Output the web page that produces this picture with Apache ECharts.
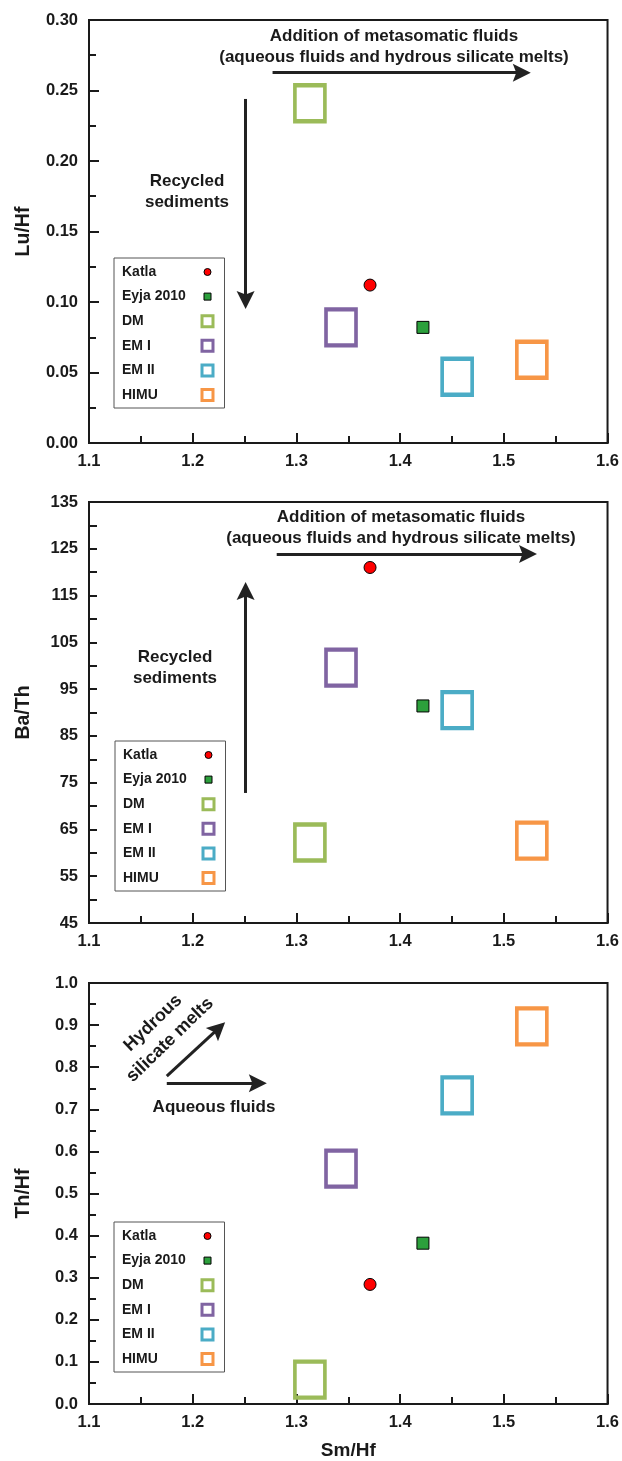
<!DOCTYPE html>
<html>
    <head>
        <meta charset="utf-8">
        <title>Sm/Hf ratios</title>
        <script src="https://cdn.jsdelivr.net/npm/echarts@6/dist/echarts.min.js"></script>
        <style>
            body { margin: 0; background: #fff; }
        </style>
    </head>
    <body>
        <div id="main" style="width:622px;height:1461px;"></div>
        <script type="text/javascript">
            // data
            var groups = ['Katla', 'Eyja 2010', 'DM', 'EM I', 'EM II', 'HIMU'];
            var smHf = [1.371, 1.422, 1.313, 1.343, 1.455, 1.527];
            var luHf = [0.112, 0.082, 0.241, 0.082, 0.047, 0.059];
            var baTh = [121, 91.4, 62.2, 99.6, 90.5, 62.6];
            var thHf = [0.284, 0.382, 0.058, 0.559, 0.733, 0.897];
            var yNames = ['Lu/Hf', 'Ba/Th', 'Th/Hf'];

            var colors = ['#ff0000', '#2ca03c', '#9bbb59', '#8064a2', '#4bacc6', '#f79646'];
            var font = 'Liberation Sans, Arial, sans-serif';
            var ink = '#1a1a1a';

            var myChart = echarts.init(document.getElementById('main'));

            var panels = [luHf, baTh, thHf];
            var grids = [
                {left: 89, top: 20, width: 522, height: 423},
                {left: 89, top: 502, width: 522, height: 421},
                {left: 89, top: 983, width: 522, height: 421}
            ];
            grids.forEach(function (g) {
                g.show = true;
                g.borderColor = ink;
                g.borderWidth = 2;
                g.backgroundColor = '#fff';
            });

            // annotation arrows (start, end) in data units; the head sits centred on the end
            var arrows = [
                [
                    [[1.277, 0.2626], [1.5173, 0.2626]],
                    [[1.251, 0.244], [1.251, 0.1014]]
                ],
                [
                    [[1.281, 123.9], [1.5233, 123.9]],
                    [[1.251, 72.8], [1.251, 116.0]]
                ],
                [
                    [[1.175, 0.779], [1.2249, 0.8921]],
                    [[1.175, 0.762], [1.2628, 0.762]]
                ]
            ];

            var axisLabel = {color: ink, fontFamily: font, fontWeight: 'bold', fontSize: 16.5};

            var xAxes = grids.map(function (g, i) {
                return {
                    gridIndex: i, type: 'value', min: 1.1, max: 1.6, interval: 0.1,
                    name: i === 2 ? 'Sm/Hf' : '', nameLocation: 'middle', nameGap: 37,
                    nameTextStyle: {color: ink, fontFamily: font, fontWeight: 'bold', fontSize: 19},
                    axisLine: {lineStyle: {color: ink, width: 2}},
                    axisTick: {inside: true, length: 10, lineStyle: {color: ink, width: 2}},
                    minorTick: {show: true, splitNumber: 2, length: 7, lineStyle: {color: ink, width: 2}},
                    axisLabel: Object.assign({margin: 10, formatter: function (v) { return v.toFixed(1); }}, axisLabel),
                    splitLine: {show: false}
                };
            });

            var yAxes = [
                {min: 0, max: 0.3, interval: 0.05, fmt: function (v) { return v.toFixed(2); }, minor: true},
                {min: 45, max: 135, interval: 5, fmt: function (v) { return Math.round(v - 45) % 10 === 0 ? String(Math.round(v)) : ''; }, minor: false},
                {min: 0, max: 1, interval: 0.1, fmt: function (v) { return v.toFixed(1); }, minor: true}
            ].map(function (a, i) {
                return {
                    gridIndex: i, type: 'value', min: a.min, max: a.max, interval: a.interval,
                    name: yNames[i], nameLocation: 'middle', nameGap: 55,
                    nameTextStyle: {color: ink, fontFamily: font, fontWeight: 'bold', fontSize: 19.5},
                    axisLine: {lineStyle: {color: ink, width: 2}},
                    axisTick: {inside: true, length: a.minor ? 10 : 8, lineStyle: {color: ink, width: 2}},
                    minorTick: {show: a.minor, splitNumber: 2, length: 7, lineStyle: {color: ink, width: 2}},
                    axisLabel: Object.assign({margin: 11, formatter: a.fmt}, axisLabel),
                    splitLine: {show: false}
                };
            });

            function seriesStyle(k) {
                if (k === 0) {
                    return {symbol: 'circle', symbolSize: 12, itemStyle: {color: colors[0], borderColor: '#000', borderWidth: 1, opacity: 1}};
                }
                if (k === 1) {
                    return {symbol: 'rect', symbolSize: 12, itemStyle: {color: colors[1], borderColor: '#000', borderWidth: 1, opacity: 1}};
                }
                return {symbol: 'rect', symbolSize: [30, 36], itemStyle: {color: 'rgba(0,0,0,0)', borderColor: colors[k], borderWidth: 4, opacity: 1}};
            }

            var arrowHead = 'path://M7.5,0L15,18L7.5,14.5L0,18Z';

            var series = [];
            panels.forEach(function (vals, p) {
                groups.forEach(function (name, k) {
                    var s = Object.assign({
                        type: 'scatter', name: name, xAxisIndex: p, yAxisIndex: p,
                        data: [[smHf[k], vals[k]]], z: k < 2 ? 5 : 3,
                        emphasis: {disabled: true}
                    }, seriesStyle(k));
                    if (k === 0) {
                        s.markLine = {
                            silent: true,
                            symbol: ['none', arrowHead],
                            symbolSize: 18,
                            label: {show: false},
                            lineStyle: {color: '#222', width: 3, type: 'solid'},
                            data: arrows[p].map(function (a) {
                                return [{coord: a[0]}, {coord: a[1]}];
                            })
                        };
                    }
                    series.push(s);
                });
            });

            // legend icons: small circle/square drawn inside a fixed 11x11 box
            var legendIcons = [
                'path://M0,0M11,11M2,5.5a3.5,3.5 0 1,0 7,0a3.5,3.5 0 1,0 -7,0z',
                'path://M0,0M11,11M2,2h7v7h-7z',
                'rect', 'rect', 'rect', 'rect'
            ];
            var legendTops = [258, 741, 1222];
            var legendLefts = [114, 115, 114];
            var legends = legendTops.map(function (t, i) {
                return {
                    orient: 'vertical', left: legendLefts[i], top: t,
                    align: 'right', itemWidth: 11, itemHeight: 11, itemGap: 10.6,
                    padding: [7, 10, 6, 8],
                    borderColor: '#555', borderWidth: 1, backgroundColor: '#fff',
                    selectedMode: false,
                    formatter: '{n|{name}}',
                    textStyle: {
                        rich: {n: {width: 75, align: 'left', fontFamily: font, fontWeight: 'bold', fontSize: 14, lineHeight: 14, color: ink}}
                    },
                    data: groups.map(function (g, k) {
                        return {
                            name: g, icon: legendIcons[k],
                            itemStyle: k < 2 ? {borderWidth: 1, borderColor: '#000'} : {borderWidth: 3, borderColor: colors[k], color: 'rgba(0,0,0,0)'}
                        };
                    })
                };
            });

            function txt(x, y, text, size, extra) {
                return Object.assign({
                    type: 'text', x: x, y: y, z: 10, silent: true,
                    style: {text: text, fill: ink, font: 'bold ' + size + 'px ' + font, align: 'center', verticalAlign: 'middle', lineHeight: 21}
                }, extra || {});
            }

            var tilt = 44 * Math.PI / 180;
            var graphic = [
                txt(394, 47, 'Addition of metasomatic fluids\n(aqueous fluids and hydrous silicate melts)', 17),
                txt(187, 192, 'Recycled\nsediments', 17),
                txt(401, 528, 'Addition of metasomatic fluids\n(aqueous fluids and hydrous silicate melts)', 17),
                txt(175, 668, 'Recycled\nsediments', 17),
                txt(214, 1107, 'Aqueous fluids', 17),
                txt(153, 1023, 'Hydrous', 18, {rotation: tilt}),
                txt(170, 1040, 'silicate melts', 18, {rotation: tilt})
            ];

            var option = {
                animation: false,
                backgroundColor: '#fff',
                grid: grids,
                xAxis: xAxes,
                yAxis: yAxes,
                legend: legends,
                graphic: graphic,
                series: series
            };
            myChart.setOption(option);
        </script>
    </body>
</html>
